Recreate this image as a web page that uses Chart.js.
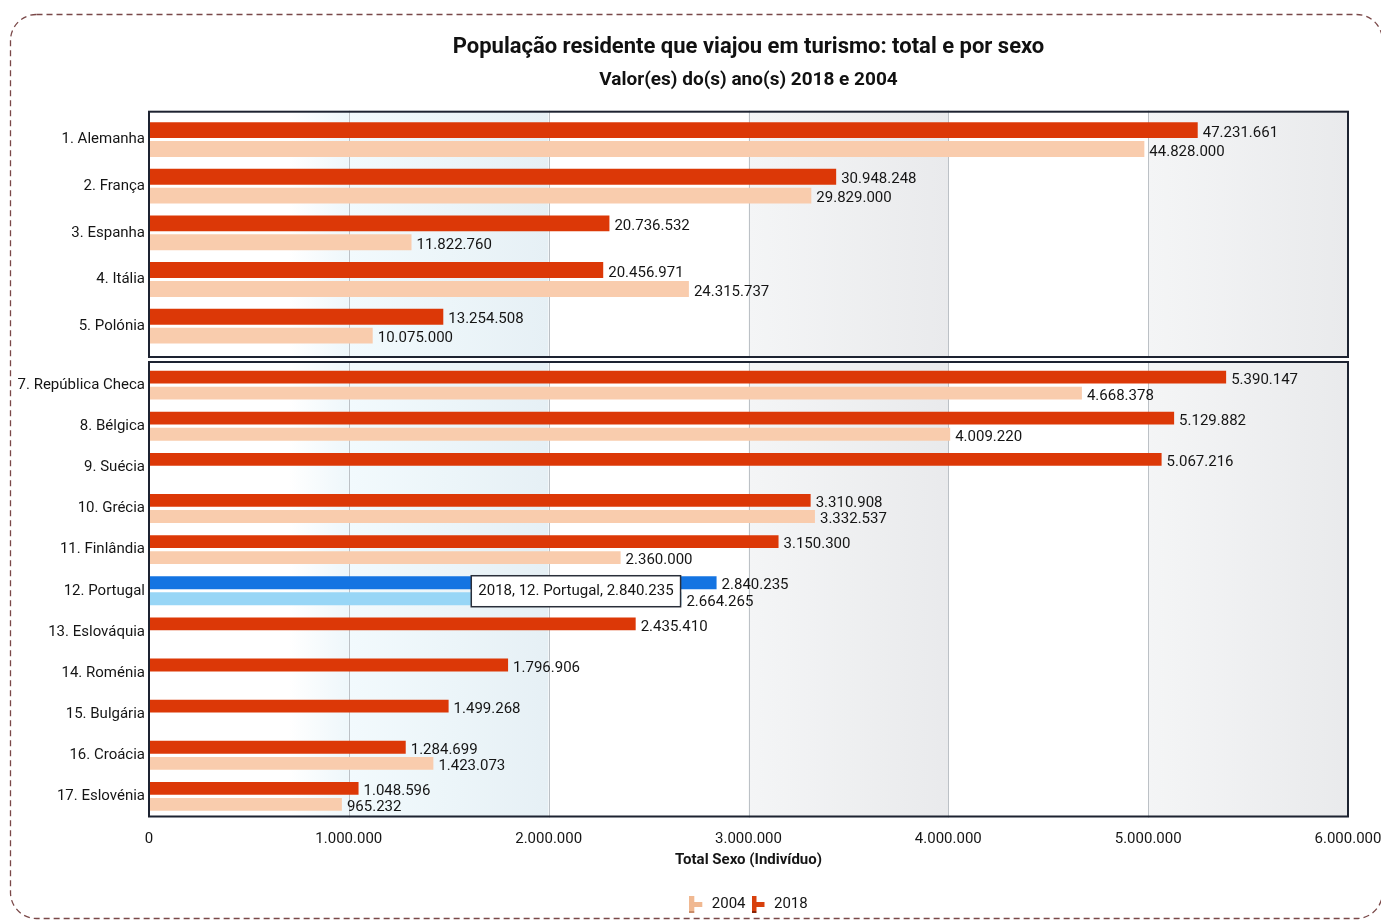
<!DOCTYPE html>
<html>
<head>
<meta charset="utf-8">
<script src="https://cdn.jsdelivr.net/npm/chart.js@4"></script>
<style>
  html, body { margin: 0; padding: 0; background: #fff; }
  #wrap { position: relative; width: 1381px; height: 922px; overflow: hidden; }
  #wrap canvas, #wrap svg { position: absolute; left: 0; }
  #topChart { top: 0; }
  #bottomChart { top: 359px; }
  #wrap svg { top: 0; }
</style>
</head>
<body>
<div id="wrap">
  <canvas id="topChart" width="1381" height="359"></canvas>
  <canvas id="bottomChart" width="1381" height="563"></canvas>
  <svg width="1381" height="922">
    <rect x="10.5" y="14.5" width="1372" height="904" rx="26" ry="26"
          fill="none" stroke="#7a4848" stroke-width="1.3" stroke-dasharray="6 4"/>
  </svg>
</div>
<script>
// top panel (large values)
const topCountries = ["1. Alemanha", "2. França", "3. Espanha", "4. Itália", "5. Polónia"];
const top2018 = [47231661, 30948248, 20736532, 20456971, 13254508];
const top2004 = [44828000, 29829000, 11822760, 24315737, 10075000];

// bottom panel
const bottomCountries = ["7. República Checa", "8. Bélgica", "9. Suécia", "10. Grécia", "11. Finlândia",
  "12. Portugal", "13. Eslováquia", "14. Roménia", "15. Bulgária", "16. Croácia", "17. Eslovénia"];
const bottom2018 = [5390147, 5129882, 5067216, 3310908, 3150300, 2840235, 2435410, 1796906, 1499268, 1284699, 1048596];
const bottom2004 = [4668378, 4009220, null, 3332537, 2360000, 2664265, null, null, null, 1423073, 965232];

const xTicks = [0, 1000000, 2000000, 3000000, 4000000, 5000000, 6000000];
const highlighted = "12. Portugal";

const RED = "#dc3807", PEACH = "#f9ccad", BLUE = "#1474e2", LIGHTBLUE = "#98d6f6";
const TEXT = "#151515";
const FONT = "15px Roboto, 'DejaVu Sans', sans-serif";

Chart.defaults.font.family = "Roboto, 'DejaVu Sans', sans-serif";
Chart.defaults.color = TEXT;

const fmt = v => String(v).replace(/\B(?=(\d{3})+(?!\d))/g, ".");
const colorsFor = (labels, normal, hi) => labels.map(l => l === highlighted ? hi : normal);

function legendIcon(main, dark) {
  const c = document.createElement("canvas");
  c.width = 15; c.height = 17;
  const g = c.getContext("2d");
  g.fillStyle = main;
  g.fillRect(0, 0, 5, 17);
  g.fillRect(5, 6, 8, 5);
  g.fillStyle = dark;
  g.fillRect(0, 15, 5, 2);
  return c;
}
const icons = { "2004": legendIcon("#f0b891", "#c98d6a"), "2018": legendIcon("#d8400c", "#8a2405") };

// shaded columns, vertical grid lines and the panel frame
// (the frame sits a few px outside the category area)
const bandPlugin = {
  id: "bands",
  beforeDraw(chart, args, opts) {
    const { ctx, chartArea: a } = chart;
    const top = a.top - opts.padTop, bottom = a.bottom + opts.padBottom;
    const last = xTicks[xTicks.length - 1];
    const px = v => a.left + (a.right - a.left) * v / last;
    ctx.save();
    for (let i = 0; i < xTicks.length - 1; i++) {
      const x0 = px(xTicks[i]), x1 = px(xTicks[i + 1]);
      const g = ctx.createLinearGradient(x0, 0, x1, 0);
      if (i === 0) { g.addColorStop(0, "#ffffff"); g.addColorStop(0.7, "#ffffff"); g.addColorStop(1, "#eef7fb"); }
      else if (i === 1) { g.addColorStop(0, "#f2fafd"); g.addColorStop(1, "#e6f0f5"); }
      else if (i % 2 === 1) { g.addColorStop(0, "#f4f5f6"); g.addColorStop(1, "#e9eaec"); }
      else { g.addColorStop(0, "#ffffff"); g.addColorStop(1, "#ffffff"); }
      ctx.fillStyle = g;
      ctx.fillRect(x0, top, x1 - x0, bottom - top);
    }
    ctx.strokeStyle = "#bcc1c6";
    ctx.lineWidth = 1;
    for (let i = 1; i < xTicks.length - 1; i++) {
      const x = Math.round(px(xTicks[i])) + 0.5;
      ctx.beginPath();
      ctx.moveTo(x, top);
      ctx.lineTo(x, bottom);
      ctx.stroke();
    }
    ctx.restore();
  },
  afterDraw(chart, args, opts) {
    const { ctx, chartArea: a } = chart;
    const top = a.top - opts.padTop, bottom = a.bottom + opts.padBottom;
    ctx.save();
    ctx.strokeStyle = "#1d2331";
    ctx.lineWidth = 2;
    ctx.strokeRect(a.left, top + 1, a.right - a.left, bottom - top - 2);
    ctx.restore();
  }
};

// value labels at the bar ends
const valuePlugin = {
  id: "values",
  afterDatasetsDraw(chart) {
    const ctx = chart.ctx;
    ctx.save();
    ctx.font = FONT;
    ctx.fillStyle = TEXT;
    ctx.textBaseline = "middle";
    chart.data.datasets.forEach((ds, di) => {
      chart.getDatasetMeta(di).data.forEach((bar, i) => {
        const v = ds.data[i];
        if (v == null) return;
        ctx.fillText(fmt(v), bar.x + 5, bar.y + 3);
      });
    });
    ctx.restore();
  }
};

// the fixed hover box on Portugal
const tipPlugin = {
  id: "tip",
  afterDraw(chart) {
    const idx = bottomCountries.indexOf(highlighted);
    const bar = chart.getDatasetMeta(0).data[idx];
    const ctx = chart.ctx;
    const text = "2018, " + highlighted + ", " + fmt(bottom2018[idx]);
    ctx.save();
    ctx.font = FONT;
    const w = ctx.measureText(text).width + 14;
    const right = bar.x - 36, top = bar.y - 7;
    ctx.fillStyle = "#ffffff";
    ctx.fillRect(right - w, top, w, 31);
    ctx.strokeStyle = "#2a2f3a";
    ctx.lineWidth = 1.5;
    ctx.strokeRect(right - w, top, w, 31);
    ctx.fillStyle = TEXT;
    ctx.textBaseline = "middle";
    ctx.fillText(text, right - w + 7, top + 16);
    ctx.restore();
  }
};

function barDatasets(labels, v2018, v2004, catPct, barPct) {
  return [
    { label: "2018", data: v2018, backgroundColor: colorsFor(labels, RED, BLUE),
      categoryPercentage: catPct, barPercentage: barPct },
    { label: "2004", data: v2004, backgroundColor: colorsFor(labels, PEACH, LIGHTBLUE),
      categoryPercentage: catPct, barPercentage: barPct }
  ];
}

const countryAxis = {
  type: "category",
  grid: { display: false, drawTicks: false },
  border: { display: false },
  ticks: { autoSkip: false, padding: 4, font: { size: 15 } },
  afterFit: s => { s.width = 149; s.paddingTop = 0; s.paddingBottom = 0; }
};

new Chart(document.getElementById("topChart"), {
  type: "bar",
  data: { labels: topCountries, datasets: barDatasets(topCountries, top2018, top2004, 0.81, 0.84) },
  options: {
    indexAxis: "y",
    responsive: false,
    animation: false,
    events: [],
    layout: { padding: { left: 0, right: 33, top: 0, bottom: 9.5 } },
    scales: {
      x: { type: "linear", min: 0, max: 54000000, display: false },
      y: countryAxis
    },
    plugins: {
      title: { display: true, fullSize: false, text: "População residente que viajou em turismo: total e por sexo",
               font: { size: 22, weight: "bold" }, color: "#111", padding: { top: 34, bottom: 3 } },
      subtitle: { display: true, fullSize: false, text: "Valor(es) do(s) ano(s) 2018 e 2004",
                  font: { size: 19, weight: "bold" }, color: "#111", padding: { top: 5, bottom: 25 } },
      legend: { display: false },
      tooltip: { enabled: false },
      bands: { padTop: 5.5, padBottom: 8.5 }
    }
  },
  plugins: [bandPlugin, valuePlugin]
});

new Chart(document.getElementById("bottomChart"), {
  type: "bar",
  data: { labels: bottomCountries, datasets: barDatasets(bottomCountries, bottom2018, bottom2004, 0.78, 0.8) },
  options: {
    indexAxis: "y",
    responsive: false,
    animation: false,
    events: [],
    layout: { padding: { left: 0, right: 0, top: 5.5, bottom: 0 } },
    scales: {
      x: {
        type: "linear",
        min: 0,
        max: 6000000,
        afterBuildTicks: s => { s.ticks = xTicks.map(v => ({ value: v })); },
        afterFit: s => { s.paddingRight = 33; },
        ticks: { callback: v => fmt(v), padding: 13, font: { size: 15 }, maxRotation: 0, autoSkip: false },
        grid: { display: false, drawTicks: false },
        border: { display: false },
        title: { display: true, text: "Total Sexo (Indivíduo)", font: { size: 15, weight: "bold" },
                 padding: { top: -10, bottom: 22 } }
      },
      y: countryAxis
    },
    plugins: {
      legend: {
        position: "bottom",
        fullSize: false,
        reverse: true,
        labels: {
          usePointStyle: true,
          font: { size: 15 },
          padding: 6,
          generateLabels: chart => Chart.defaults.plugins.legend.labels.generateLabels(chart)
            .map(l => Object.assign(l, { pointStyle: icons[l.text] }))
        }
      },
      tooltip: { enabled: false },
      bands: { padTop: 3.5, padBottom: 0.5 }
    }
  },
  plugins: [bandPlugin, valuePlugin, tipPlugin]
});
</script>
</body>
</html>
